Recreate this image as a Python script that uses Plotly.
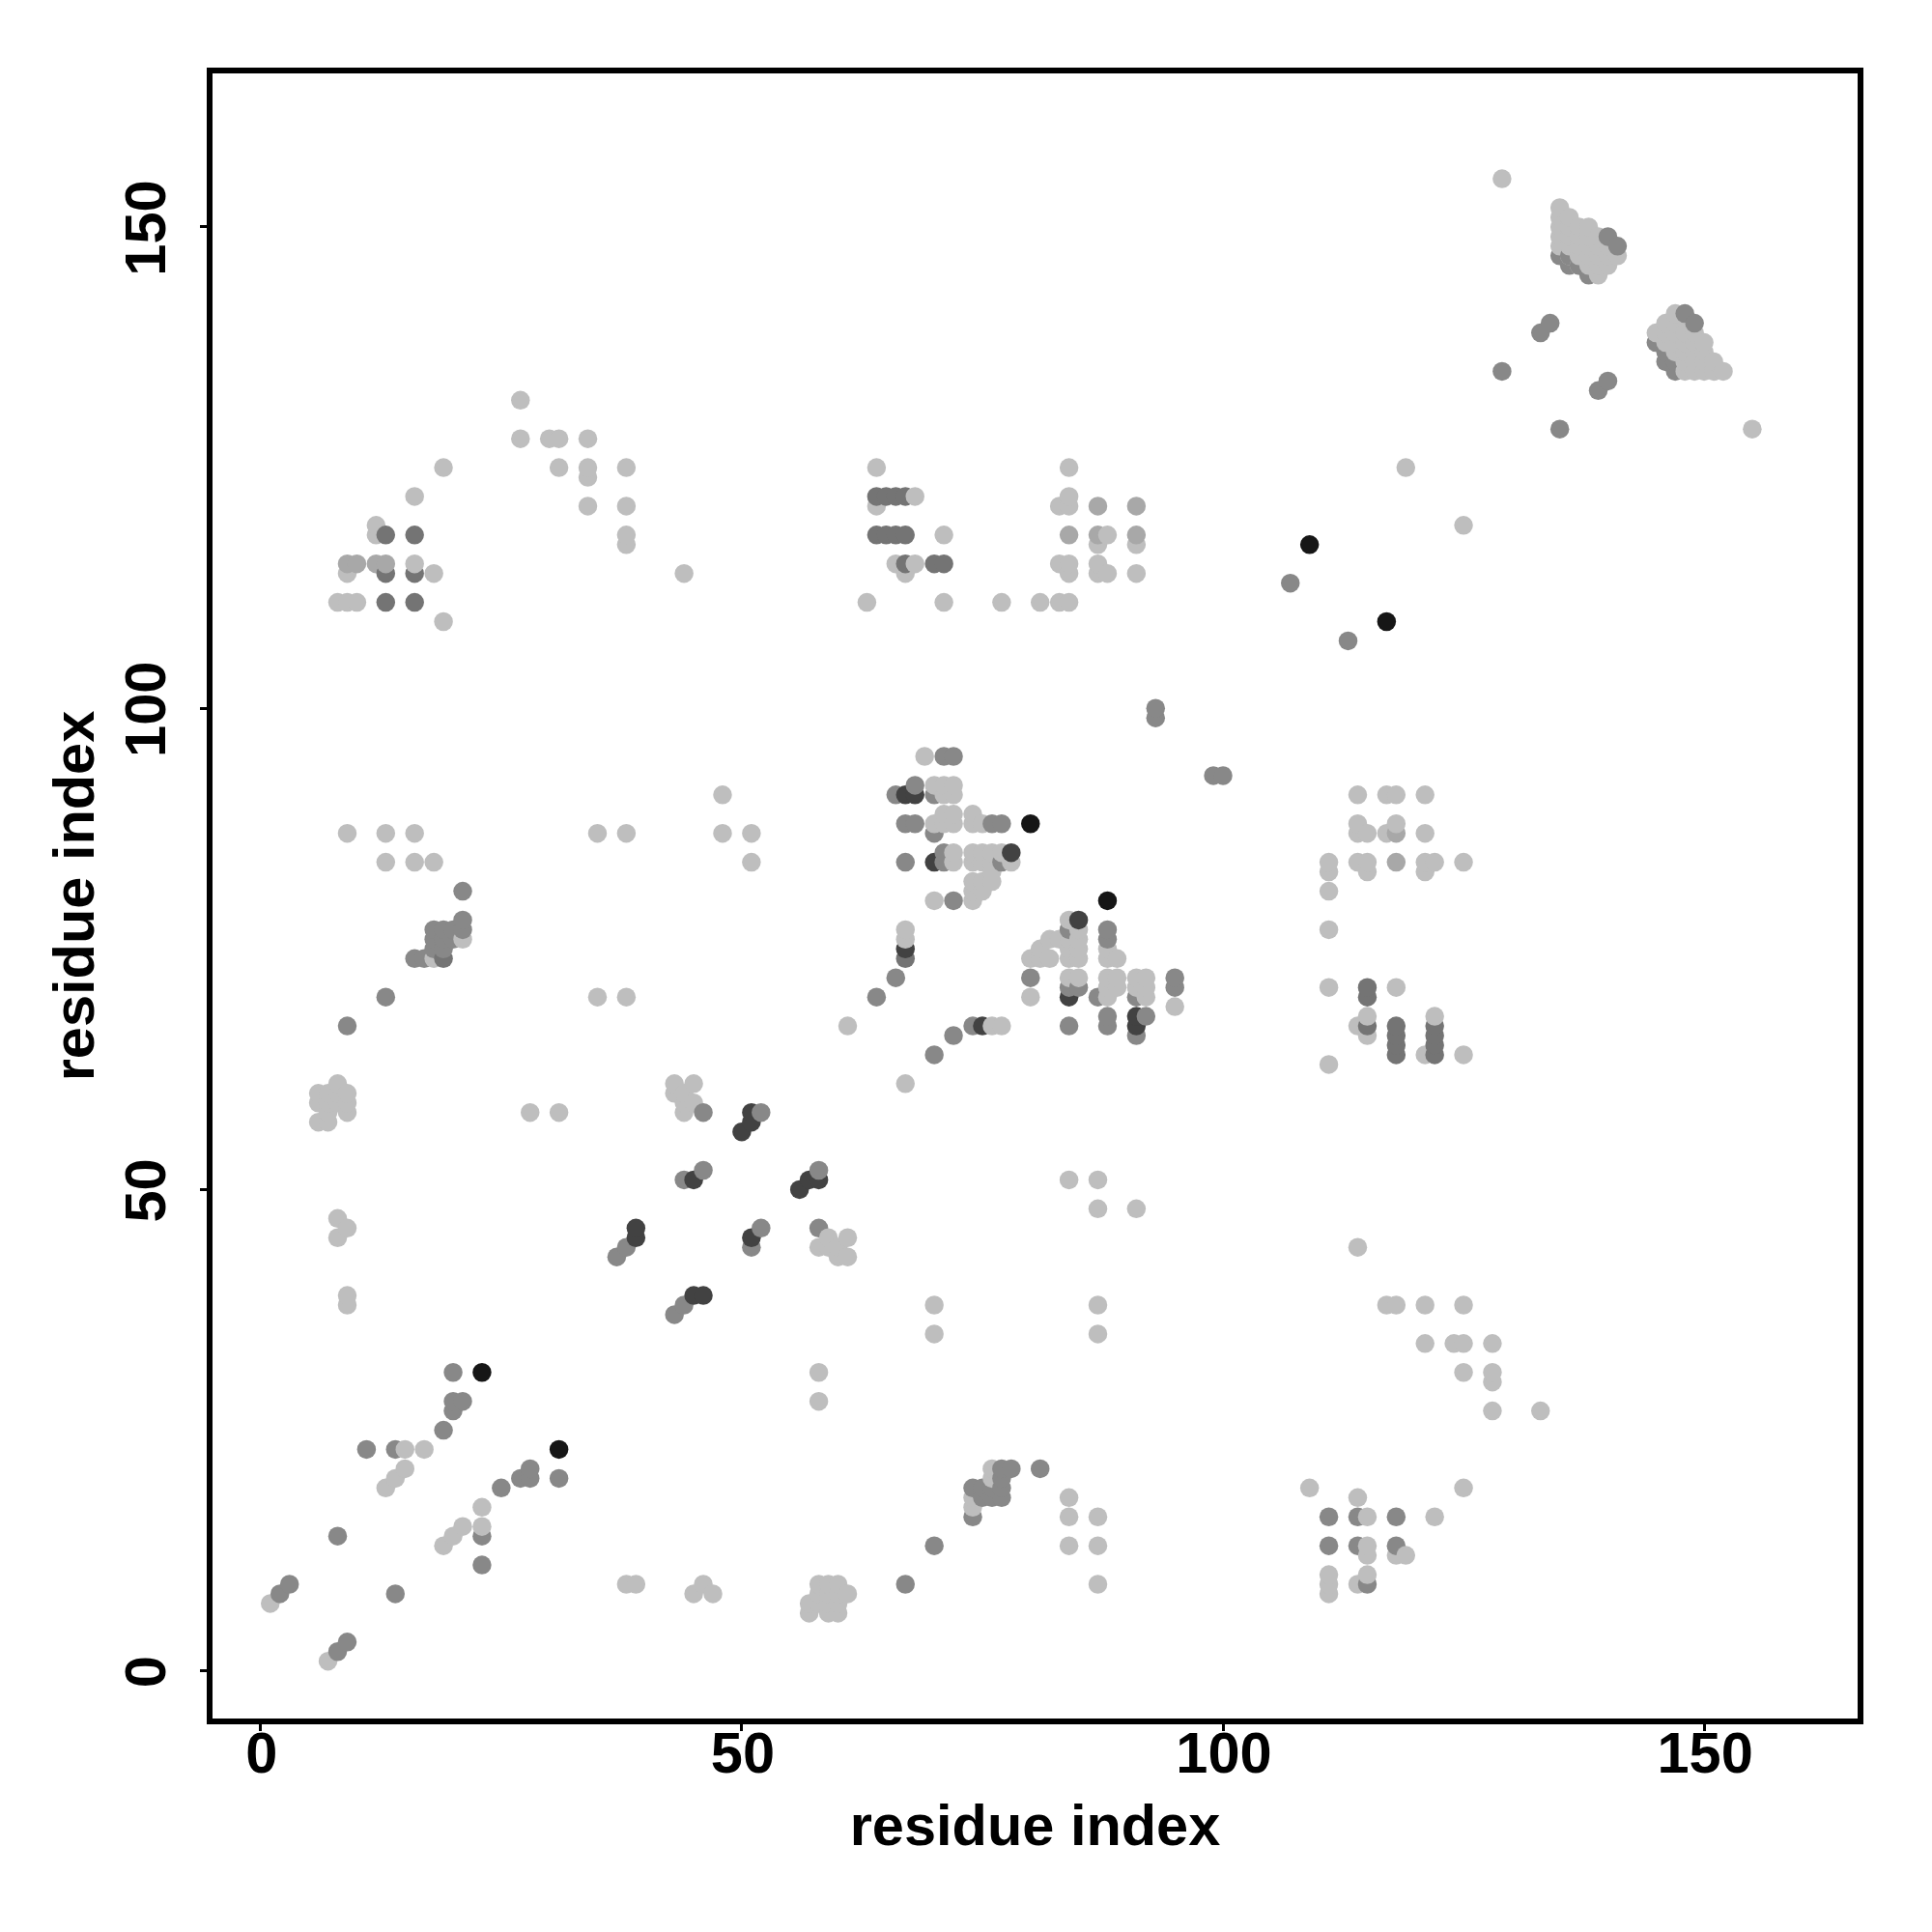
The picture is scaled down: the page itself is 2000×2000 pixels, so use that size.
import plotly.graph_objects as go

tick_values = [0, 50, 100, 150]
axis_label = "residue index"

# contacts by shade: (residue i, residue j)
light = [
 (129,155),(135,152),(135,151),(136,151),(135,150),(136,150),(137,150),(138,150),
 (135,149),(136,149),(137,149),(138,149),(139,149),(135,148),(136,148),(137,148),(138,148),(139,148),(140,148),
 (136,147),(137,147),(138,147),(139,147),(140,147),(141,147),(137,146),(138,146),(139,146),(140,146),(139,145),
 (147,141),(146,140),(147,140),(145,139),(146,139),(147,139),(148,139),(149,139),
 (146,138),(147,138),(148,138),(149,138),(150,138),(147,137),(148,137),(149,137),(150,137),
 (148,136),(149,136),(150,136),(151,136),(148,135),(149,135),(150,135),(151,135),(152,135),(155,129),
 (119,125),(125,119),(27,132),(27,128),(30,128),(31,128),(34,128),(31,125),(34,125),(38,125),(19,125),(64,125),(84,125),
 (34,124),(16,122),(68,122),(84,122),(34,121),(38,121),(64,121),(83,121),(84,121),(12,119),(12,118),(38,118),(38,117),
 (71,118),(88,118),(87,117),(91,117),(66,115),(68,115),(83,115),(84,115),(87,115),(9,114),(16,115),(18,114),(44,114),
 (67,114),(87,114),(88,114),(91,114),(84,114),(8,111),(9,111),(10,111),(19,109),(63,111),(71,111),(77,111),(81,111),(83,111),(84,111),
 (69,95),(70,92),(71,92),(72,92),(71,91),(72,91),(71,89),(72,89),(74,89),(70,88),(71,88),(72,88),(74,88),(75,88),
 (72,85),(74,85),(75,85),(76,85),(77,85),(72,84),(74,84),(75,84),(76,84),(78,84),(76,83),(74,82),(75,82),(76,82),(74,81),(75,81),(70,80),(74,80),
 (84,78),(67,77),(85,77),(67,76),(82,76),(83,76),(84,76),(85,76),(81,75),(84,75),(85,75),(88,75),
 (80,74),(81,74),(82,74),(84,74),(85,74),(88,74),(89,74),(84,72),(85,72),(88,72),(89,72),(91,72),(92,72),
 (88,71),(89,71),(91,71),(92,71),(80,70),(88,70),(92,70),(95,69),(61,67),(76,67),(77,67),(67,61),
 (9,87),(13,87),(16,87),(35,87),(38,87),(48,87),(51,87),(48,91),(13,84),(16,84),(18,84),(51,84),(21,76),(18,74),(111,77),
 (114,91),(117,91),(118,91),(121,91),(114,88),(114,87),(115,87),(117,87),(121,87),(118,88),
 (111,84),(114,84),(115,84),(121,84),(122,84),(125,84),(111,83),(115,83),(121,83),(111,81),
 (111,71),(118,71),(115,68),(122,68),(114,67),(115,66),(121,64),(125,64),(111,63),
 (35,70),(38,70),(28,58),(31,58),(43,61),(45,61),(43,60),(44,60),(44,59),(45,59),(44,58),
 (6,57),(7,57),(6,59),(6,60),(7,60),(7,59),(7,58),(8,61),(8,60),(9,60),(8,59),(9,59),(9,58),(8,47),(9,46),(8,45),(9,39),(9,38),
 (59,45),(58,44),(59,44),(60,44),(60,43),(61,43),(61,45),(114,44),(84,51),(87,51),(87,48),(91,48),
 (70,38),(70,35),(87,38),(87,35),(117,38),(118,38),(121,38),(125,38),(121,34),(124,34),(125,34),(128,34),(125,31),(128,31),(128,30),(128,27),(133,27),
 (58,31),(58,28),(15,23),(17,23),(15,21),(14,20),(13,19),(23,17),(21,15),(23,15),(20,14),(19,13),(1,7),(7,1),
 (38,9),(39,9),(46,9),(58,9),(59,9),(60,9),(87,9),(45,8),(47,8),(58,8),(59,8),(60,8),(61,8),(57,7),(58,7),(59,7),(60,7),(57,6),(59,6),(60,6),
 (76,21),(76,20),(74,18),(74,17),(84,18),(84,16),(87,16),(84,13),(87,13),(109,19),(125,19),(114,18),(115,16),(122,16),
 (115,13),(115,12),(118,12),(119,12),(111,10),(115,10),(111,9),(114,9),(111,8),
]
soft = [
 (87,121),(91,121),(84,118),(87,118),(91,118),(9,115),(10,115),(12,115),(13,115),(118,87),(118,84),
]
mid = [
 (135,147),(136,147),(136,146),(137,146),(138,145),(140,149),(141,148),(134,140),(133,139),(129,135),(139,133),(140,134),(135,129),
 (148,141),(149,140),(145,138),(146,137),(146,136),(147,136),(147,135),
 (107,113),(113,107),(93,100),(93,99),(99,93),(100,93),(71,95),(72,95),(68,92),(66,91),(70,91),(67,88),(68,88),(70,87),(76,88),(77,88),
 (71,85),(67,84),(71,84),(77,84),(72,80),(84,77),(88,77),(88,76),(66,72),(80,72),(95,72),(84,71),(85,71),(95,71),(64,70),(87,70),(91,70),
 (88,68),(92,68),(84,67),(88,67),(74,67),(72,66),(91,66),(70,64),
 (21,81),(21,78),(21,77),(20,77),(19,77),(18,77),(20,76),(19,76),(18,76),(19,75),(18,75),(17,74),(16,74),(13,70),(9,67),
 (46,58),(52,58),(58,52),(44,51),(46,52),(37,43),(38,44),(51,44),(52,46),(58,46),(43,37),(44,38),
 (20,31),(20,28),(21,28),(20,27),(19,25),(11,23),(14,23),(28,21),(27,20),(28,20),(25,19),(31,20),(23,14),(23,11),(8,14),(14,8),(3,9),(2,8),(9,3),(8,2),
 (67,9),(70,13),(81,21),(77,21),(78,21),(77,20),(74,19),(75,19),(76,19),(77,19),(75,18),(76,18),(77,18),(74,16),
 (111,16),(114,16),(118,16),(111,13),(114,13),(118,13),(115,9),
]
deep = [
 (64,122),(65,122),(66,122),(67,122),(64,118),(65,118),(66,118),(67,118),(67,115),(70,115),(71,115),
 (13,118),(16,118),(13,114),(16,114),(13,111),(16,111),(19,74),(67,74),(115,71),(115,70),(115,67),
 (118,67),(122,67),(118,66),(122,66),(118,65),(122,65),(118,64),(122,64),
]
dark = [
 (67,91),(68,91),(78,85),(70,84),(85,78),(67,75),(84,70),(91,68),(91,67),(75,67),
 (51,57),(51,58),(50,56),(57,51),(58,51),(56,50),(45,51),(39,45),(39,46),(51,45),(45,39),(46,39),
]
black = [(109,117),(117,109),(80,88),(88,80),(23,31),(31,23)]

shades = [(light,190),(soft,168),(mid,136),(deep,116),(dark,66),(black,22)]
pts = sorted(((x,y,g) for s,g in shades for x,y in s), key=lambda p:(p[0],p[1]))

fig = go.Figure(go.Scatter(
    x=[p[0] for p in pts], y=[p[1] for p in pts], mode="markers",
    marker=dict(size=19.5, color=[f"rgb({p[2]},{p[2]},{p[2]})" for p in pts], line=dict(width=0)),
))
font = dict(family="Liberation Sans", size=59.5, color="black", weight="bold")
ax = dict(tickvals=tick_values, ticks="outside", ticklen=7, tickwidth=3, tickcolor="black",
          showline=True, mirror=True, linecolor="black", linewidth=6, showgrid=False, zeroline=False,
          tickfont=font, title=dict(text=axis_label, font=font))
fig.update_layout(
    width=1984, height=1984, autosize=False, showlegend=False,
    paper_bgcolor="white", plot_bgcolor="white",
    margin=dict(l=211.5, r=68.5, t=67.5, b=212.5),
    xaxis=dict(range=[-5.0,165.95], ticklabelstandoff=-28, ticklabelshift=1, **ax),
    yaxis=dict(range=[-4.95,165.95], tickangle=-90, ticklabelstandoff=12, ticklabelshift=10, **ax),
)
fig.update_xaxes(title_standoff=23)
fig.update_yaxes(title_standoff=2)
fig.write_html("out.html")
